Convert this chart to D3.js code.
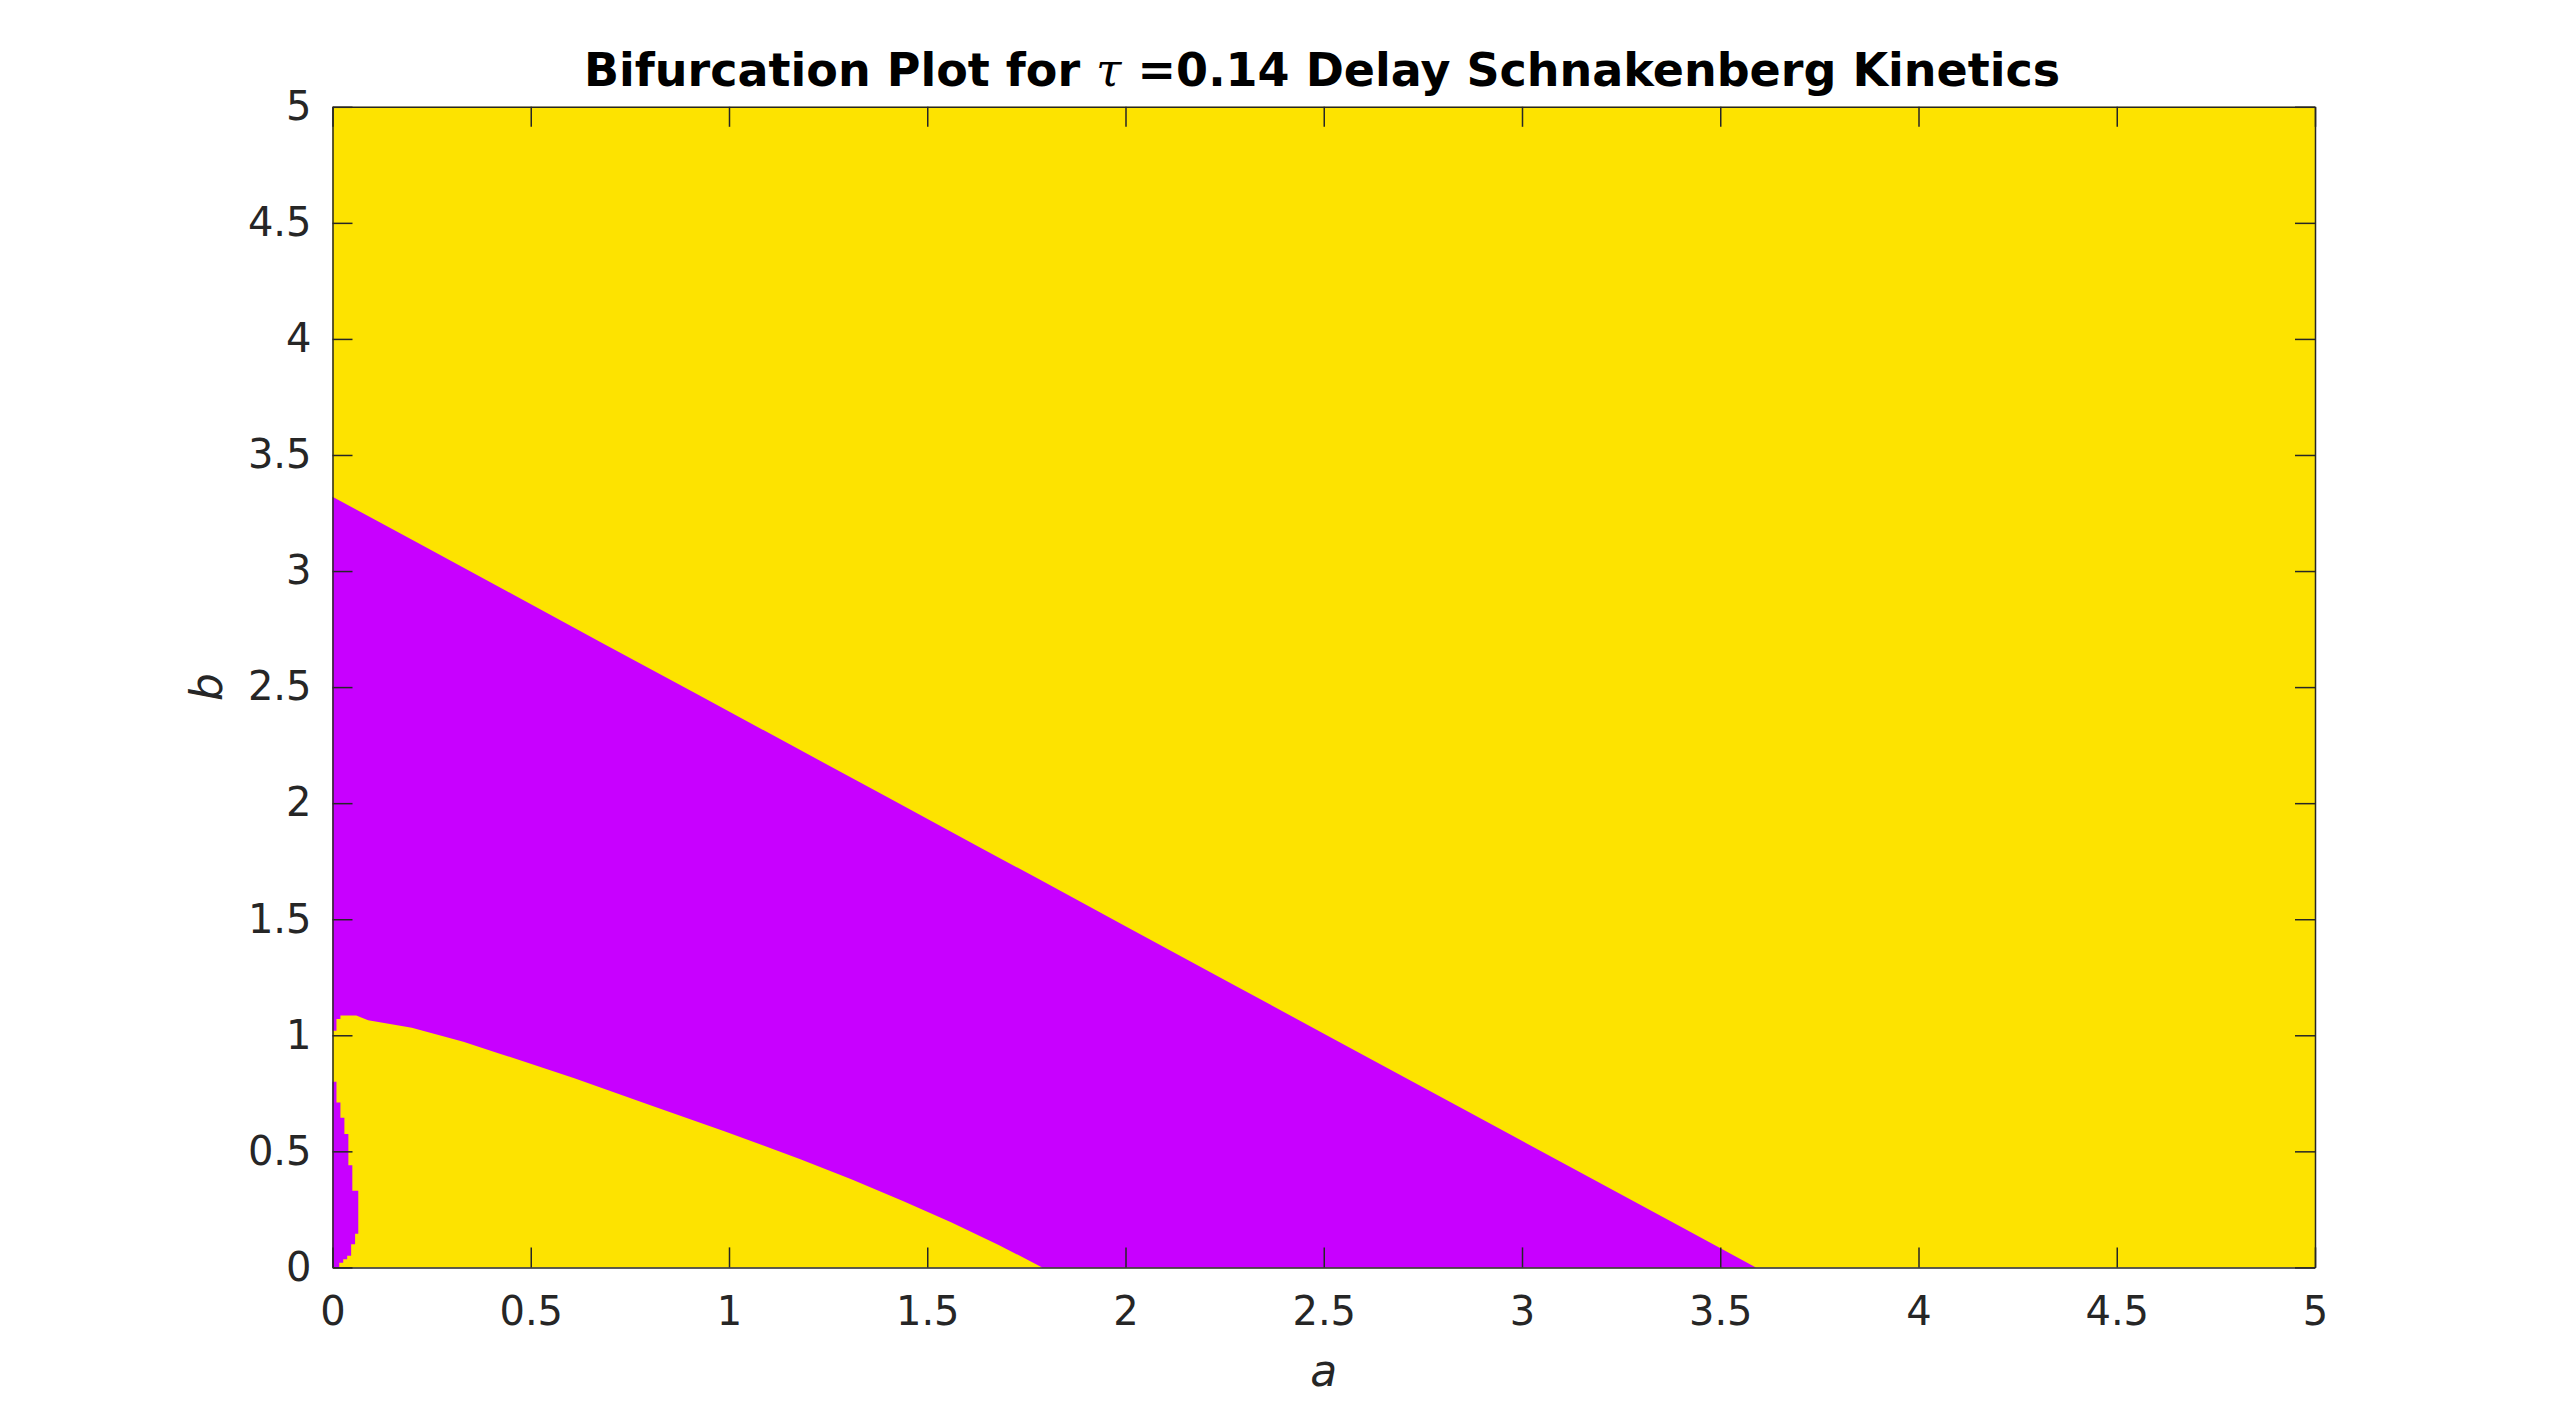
<!DOCTYPE html>
<html>
<head>
<meta charset="utf-8">
<script src="https://cdn.jsdelivr.net/npm/d3@7"></script>
<style>
  body { margin: 0; background: #fff; }
  .tick text { font-family: "DejaVu Sans", sans-serif; font-size: 40px; fill: #262626; }
  .tick line, .domain { stroke: #262626; stroke-width: 1.5; }
</style>
</head>
<body>
<svg width="2558" height="1424"></svg>
<script>
// upper edge of the purple band
var upperA = [0, 0.21, 0.44, 0.68, 0.92, 1.16, 1.40, 1.64, 1.78, 2.00, 2.27, 2.54, 2.84, 3.13, 3.41, 3.59];
var upperB = [3.32, 3.126, 2.913, 2.69, 2.469, 2.247, 2.025, 1.803, 1.674, 1.47, 1.22, 0.97, 0.693, 0.425, 0.166, 0];

// lower edge of the purple band (top of the yellow lobe)
var lowerA = [0, 0.01, 0.01, 0.02, 0.02, 0.06, 0.09, 0.20, 0.33, 0.42, 0.61, 0.80, 0.99, 1.18, 1.31, 1.44, 1.56, 1.68, 1.79];
var lowerB = [1.02, 1.02, 1.07, 1.07, 1.085, 1.085, 1.065, 1.032, 0.972, 0.922, 0.815, 0.700, 0.586, 0.466, 0.379, 0.285, 0.194, 0.097, 0];

// thin purple sliver along a = 0: band edges in b, right edge in a for each band
var sliverB = [0.80, 0.71, 0.645, 0.575, 0.44, 0.33, 0.145, 0.10, 0.05, 0.035, 0.02, 0];
var sliverA = [0.01, 0.02, 0.03, 0.04, 0.05, 0.065, 0.057, 0.047, 0.037, 0.027, 0.017];

var xTicks = [0, 0.5, 1, 1.5, 2, 2.5, 3, 3.5, 4, 4.5, 5];
var yTicks = [0, 0.5, 1, 1.5, 2, 2.5, 3, 3.5, 4, 4.5, 5];

var yellow = '#FDE300', purple = '#C800FF';

function main() {
    var svg = d3.select('svg');

    var x = d3.scaleLinear().domain([0, 5]).range([332.5, 2315]);
    var y = d3.scaleLinear().domain([0, 5]).range([1267.4, 106.8]);

    var line = d3.line()
        .x(function(d) { return x(d[0]); })
        .y(function(d) { return y(d[1]); });

    // yellow background of the whole parameter plane
    svg.append('rect')
        .attr('x', x(0)).attr('y', y(5))
        .attr('width', x(5) - x(0)).attr('height', y(0) - y(5))
        .attr('fill', yellow);

    // purple band: upper edge left to right, along b=0, then lower edge back
    var band = [];
    upperA.forEach(function(a, i) { band.push([a, upperB[i]]); });
    for (var i = lowerA.length - 1; i >= 0; i--) band.push([lowerA[i], lowerB[i]]);

    svg.append('path')
        .attr('d', line(band) + 'Z')
        .attr('fill', purple);

    // sliver as a staircase
    var sliver = [[0, 0], [0, sliverB[0]]];
    sliverA.forEach(function(a, i) {
        sliver.push([a, sliverB[i]]);
        sliver.push([a, sliverB[i + 1]]);
    });

    svg.append('path')
        .attr('d', line(sliver) + 'Z')
        .attr('fill', purple);

    // axes, ticks inside on all four sides
    svg.append('g')
        .attr('transform', 'translate(0,' + y(0) + ')')
        .call(d3.axisBottom(x).tickValues(xTicks).tickFormat(d3.format('')).tickSizeInner(-20).tickSizeOuter(0).tickPadding(29));

    svg.append('g')
        .attr('transform', 'translate(0,' + y(5) + ')')
        .call(d3.axisTop(x).tickValues(xTicks).tickFormat('').tickSizeInner(-20).tickSizeOuter(0));

    svg.append('g')
        .attr('transform', 'translate(' + x(0) + ',0)')
        .call(d3.axisLeft(y).tickValues(yTicks).tickFormat(d3.format('')).tickSizeInner(-20).tickSizeOuter(0).tickPadding(21));

    svg.append('g')
        .attr('transform', 'translate(' + x(5) + ',0)')
        .call(d3.axisRight(y).tickValues(yTicks).tickFormat('').tickSizeInner(-20).tickSizeOuter(0));

    svg.selectAll('.tick text').attr('font-family', null).attr('font-size', null);

    // labels
    svg.append('text')
        .attr('x', x(2.5)).attr('y', 1386)
        .attr('text-anchor', 'middle')
        .style('font-family', 'DejaVu Sans').style('font-style', 'italic')
        .style('font-size', '44px').attr('fill', '#262626')
        .text('a');

    svg.append('text')
        .attr('transform', 'translate(222,' + y(2.5) + ') rotate(-90)')
        .attr('text-anchor', 'middle')
        .style('font-family', 'DejaVu Sans').style('font-style', 'italic')
        .style('font-size', '44px').attr('fill', '#262626')
        .text('b');

    var title = svg.append('text')
        .attr('x', 584).attr('y', 86)
        .attr('text-anchor', 'start')
        .style('font-family', 'DejaVu Sans').style('font-weight', 'bold')
        .style('font-size', '46px').attr('fill', '#000');
    title.append('tspan').text('Bifurcation Plot for ');
    title.append('tspan')
        .style('font-family', 'DejaVu Serif').style('font-style', 'italic').style('font-weight', 'normal')
        .text('τ');
    title.append('tspan').text(' =0.14 Delay Schnakenberg Kinetics');
}

main();
</script>
</body>
</html>
